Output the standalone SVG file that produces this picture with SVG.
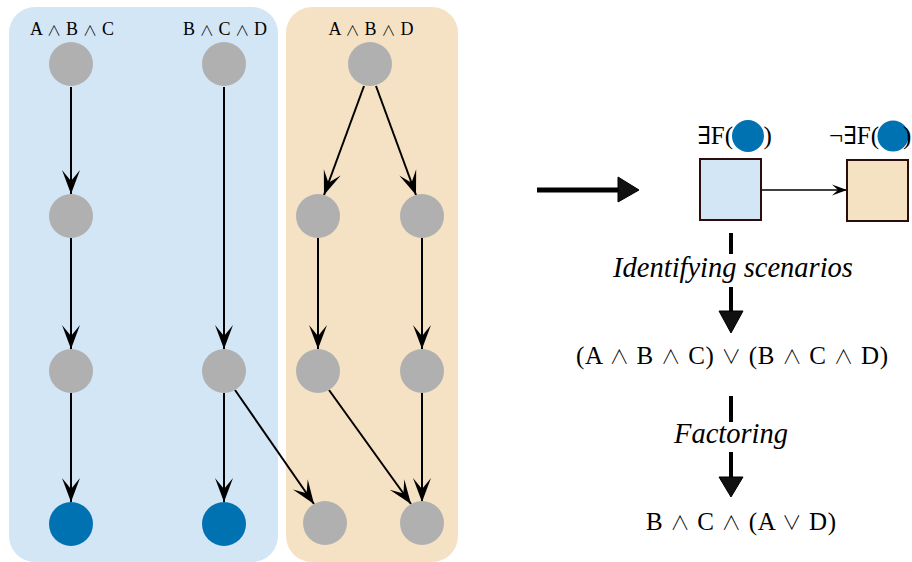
<svg xmlns="http://www.w3.org/2000/svg" width="912" height="562" viewBox="0 0 912 562">
<style>
.panelB{fill:#d2e6f6}
.panelO{fill:#f5e2c4}
.g{fill:#b0b0b0}
.b{fill:#0072b2}
.e{stroke:#000;stroke-width:2;fill:none;marker-end:url(#ah)}
.lbl{font-family:"Liberation Serif","DejaVu Serif",serif;font-size:18px;text-anchor:middle;fill:#000}
.f{font-family:"Liberation Serif","DejaVu Serif",serif;font-size:25px;text-anchor:middle;fill:#000}
.op{font-family:"Noto Sans CJK JP","DejaVu Sans",sans-serif;font-weight:300;font-size:0.78em}
.it{font-family:"Liberation Serif","DejaVu Serif",serif;font-style:italic;font-size:28.5px;text-anchor:middle;fill:#000}
.sq{stroke:#2b0d0d;stroke-width:2}
.q{font-family:"Liberation Serif","DejaVu Serif",serif;font-size:25px;fill:#000}
</style>
<defs>
<marker id="ah" viewBox="-25 -10 26 20" markerWidth="26" markerHeight="20" refX="0" refY="0" orient="auto" markerUnits="userSpaceOnUse">
<path d="M0,0 L-24,-9 L-13,0 L-24,9 Z" fill="#000"/>
</marker>
<marker id="ah2" viewBox="-16 -7 17 14" markerWidth="17" markerHeight="14" refX="0" refY="0" orient="auto" markerUnits="userSpaceOnUse">
<path d="M0,0 L-15,-5.5 L-9,0 L-15,5.5 Z" fill="#000"/>
</marker>
</defs>
<rect width="912" height="562" fill="#fff"/>
<g id="panel-blue"><rect class="panelB" x="9" y="7" width="269" height="555" rx="26"/></g>
<g id="panel-orange"><rect class="panelO" x="286" y="7" width="172" height="555" rx="26"/></g>

<g id="labels">
<text class="lbl" x="72" y="35" textLength="84" lengthAdjust="spacing">A <tspan class="op">∧</tspan> B <tspan class="op">∧</tspan> C</text>
<text class="lbl" x="225" y="35" textLength="84" lengthAdjust="spacing">B <tspan class="op">∧</tspan> C <tspan class="op">∧</tspan> D</text>
<text class="lbl" x="371" y="35" textLength="85" lengthAdjust="spacing">A <tspan class="op">∧</tspan> B <tspan class="op">∧</tspan> D</text>
</g>

<g id="connectors">
<line class="e" x1="71" y1="87" x2="71" y2="194"/>
<line class="e" x1="71" y1="238" x2="71" y2="349"/>
<line class="e" x1="71" y1="393" x2="71" y2="502"/>
<line class="e" x1="224" y1="87" x2="224" y2="349"/>
<line class="e" x1="224" y1="393" x2="224" y2="502"/>
<line class="e" x1="235" y1="390" x2="314" y2="504"/>
<line class="e" x1="364" y1="86" x2="324" y2="195"/>
<line class="e" x1="376" y1="86" x2="416" y2="195"/>
<line class="e" x1="318" y1="238" x2="318" y2="349"/>
<line class="e" x1="422" y1="238" x2="422" y2="349"/>
<line class="e" x1="329" y1="390" x2="411" y2="504"/>
<line class="e" x1="422" y1="393" x2="422" y2="502"/>
<line class="e" x1="761" y1="190" x2="847" y2="190" style="stroke-width:1.6;marker-end:url(#ah2)"/>
</g>

<g id="n1"><circle class="g" cx="71" cy="64" r="22"/></g>
<g id="n2"><circle class="g" cx="224" cy="64" r="22"/></g>
<g id="n3"><circle class="g" cx="370" cy="64" r="22"/></g>
<g id="n4"><circle class="g" cx="71" cy="216" r="22"/></g>
<g id="n5"><circle class="g" cx="318" cy="216" r="22"/></g>
<g id="n6"><circle class="g" cx="422" cy="216" r="22"/></g>
<g id="n7"><circle class="g" cx="71" cy="371" r="22"/></g>
<g id="n8"><circle class="g" cx="224" cy="371" r="22"/></g>
<g id="n9"><circle class="g" cx="318" cy="371" r="22"/></g>
<g id="n10"><circle class="g" cx="422" cy="371" r="22"/></g>
<g id="n11"><circle class="b" cx="71" cy="524" r="22"/></g>
<g id="n12"><circle class="b" cx="224" cy="524" r="22"/></g>
<g id="n13"><circle class="g" cx="325" cy="523" r="22"/></g>
<g id="n14"><circle class="g" cx="422" cy="523" r="22"/></g>

<g id="big-arrow">
<line x1="537" y1="190" x2="620" y2="190" stroke="#000" stroke-width="5"/>
<polygon points="618,177 639,190 618,202" fill="#111" stroke="#000" stroke-width="1"/>
</g>

<g id="sq-exists">
<rect class="sq" x="700" y="159" width="61" height="61" fill="#d2e6f6"/>
<circle class="b" cx="748" cy="136" r="16"/>
<text class="q" x="733" y="144" text-anchor="end">∃F(</text>
<text class="q" x="763.5" y="144">)</text>
</g>
<g id="sq-notexists">
<rect class="sq" x="847" y="160" width="61" height="61" fill="#f5e2c3"/>
<circle class="b" cx="893" cy="136" r="15.5"/>
<text class="q" x="879" y="144" text-anchor="end">¬∃F(</text>
<text class="q" x="903" y="144">)</text>
</g>

<g id="step1">
<line x1="731" y1="233" x2="731" y2="254" stroke="#000" stroke-width="4"/>
<text class="it" x="733" y="277">Identifying scenarios</text>
<line x1="731" y1="287" x2="731" y2="316" stroke="#000" stroke-width="4"/>
<polygon points="719,311 743,311 731,333" fill="#111" stroke="#000" stroke-width="1"/>
</g>
<g id="formula1"><text class="f" x="732" y="364" textLength="312" lengthAdjust="spacing">(A <tspan class="op">∧</tspan> B <tspan class="op">∧</tspan> C) <tspan class="op">∨</tspan> (B <tspan class="op">∧</tspan> C <tspan class="op">∧</tspan> D)</text></g>

<g id="step2">
<line x1="731" y1="396" x2="731" y2="422" stroke="#000" stroke-width="4"/>
<text class="it" x="731" y="443">Factoring</text>
<line x1="731" y1="452" x2="731" y2="481" stroke="#000" stroke-width="4"/>
<polygon points="719,477 743,477 731,497" fill="#111" stroke="#000" stroke-width="1"/>
</g>
<g id="formula2"><text class="f" x="741" y="530" textLength="190" lengthAdjust="spacing">B <tspan class="op">∧</tspan> C <tspan class="op">∧</tspan> (A <tspan class="op">∨</tspan> D)</text></g>
</svg>
